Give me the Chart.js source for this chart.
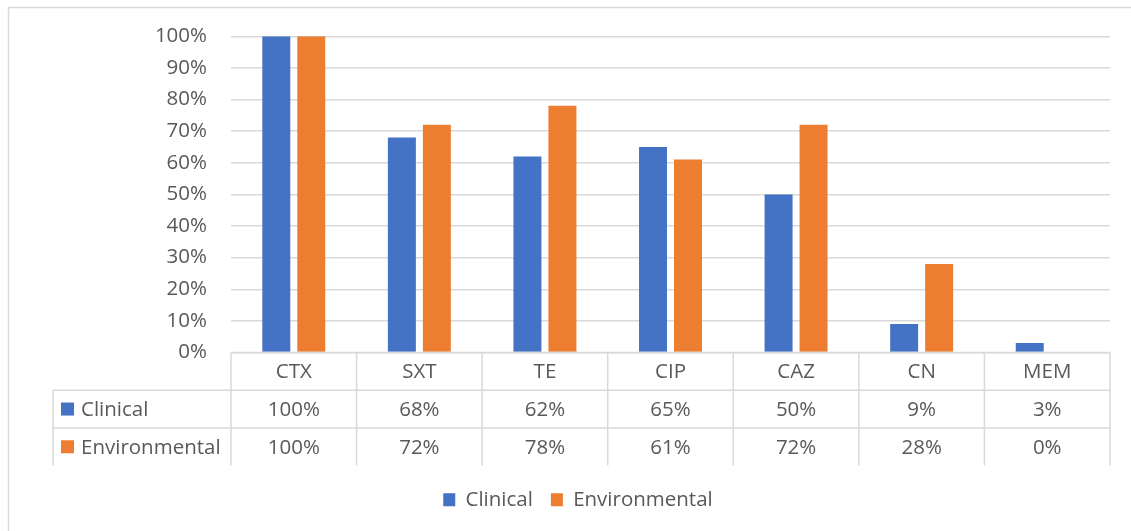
<!DOCTYPE html>
<html>
<head>
<meta charset="utf-8">
<script src="https://cdn.jsdelivr.net/npm/chart.js@4"></script>
<style>
  html, body { margin: 0; padding: 0; background: #ffffff; }
  #wrap { width: 1131px; height: 531px; position: relative; }
</style>
</head>
<body>
<div id="wrap"><canvas id="chart" width="1131" height="531"></canvas></div>
<script>
// Antibiotic resistance rates (%) per drug
const categories = ['CTX', 'SXT', 'TE', 'CIP', 'CAZ', 'CN', 'MEM'];
const clinical = [100, 68, 62, 65, 50, 9, 3];
const environmental = [100, 72, 78, 61, 72, 28, 0];
const seriesNames = ['Clinical', 'Environmental'];
const yTicks = [0, 10, 20, 30, 40, 50, 60, 70, 80, 90, 100];

const BLUE = '#4472C4';
const ORANGE = '#ED7D31';
const TEXT = '#595959';
const LINE = '#d9d9d9';
const FONT = "'Open Sans', 'DejaVu Sans', sans-serif";
const FS = 20.5;

// Frame around the figure plus the data table under the plot
const tablePlugin = {
  id: 'dataTable',
  afterDraw(chart) {
    const ctx = chart.ctx;
    const x = chart.scales.x;
    const area = chart.chartArea;
    const n = categories.length;
    const colW = (area.right - area.left) / n;
    const rowH = 37.7;
    const top = area.bottom;
    const labelLeft = 53;
    const rows = [clinical, environmental];
    const colors = [BLUE, ORANGE];

    ctx.save();
    // outer frame
    ctx.strokeStyle = LINE;
    ctx.lineWidth = 1.5;
    ctx.strokeRect(8.5, 7.5, 1300, 700);

    // grid of the table
    ctx.beginPath();
    // horizontal lines
    ctx.moveTo(area.left, top); ctx.lineTo(area.right, top);
    for (let r = 1; r <= rows.length; r++) {
      const yy = top + r * rowH;
      ctx.moveTo(labelLeft, yy); ctx.lineTo(area.right, yy);
    }
    // vertical lines
    for (let c = 0; c <= n; c++) {
      const xx = area.left + c * colW;
      ctx.moveTo(xx, top); ctx.lineTo(xx, top + rowH * (rows.length + 1));
    }
    ctx.moveTo(labelLeft, top + rowH); ctx.lineTo(labelLeft, top + rowH * (rows.length + 1));
    ctx.stroke();

    ctx.fillStyle = TEXT;
    ctx.font = FS + 'px ' + FONT;
    ctx.textBaseline = 'middle';
    ctx.textAlign = 'center';
    // header row: category names
    categories.forEach((c, i) => {
      ctx.fillText(c, x.getPixelForValue(i), top + rowH / 2 + 1);
    });
    // series rows
    rows.forEach((vals, r) => {
      const cy = top + rowH * (r + 1) + rowH / 2 + 1;
      ctx.textAlign = 'center';
      vals.forEach((v, i) => {
        ctx.fillText(v + '%', x.getPixelForValue(i), cy);
      });
      ctx.fillStyle = colors[r];
      ctx.fillRect(61, cy - 7.5, 13, 13);
      ctx.fillStyle = TEXT;
      ctx.textAlign = 'left';
      ctx.fillText(seriesNames[r], 81, cy);
    });
    ctx.restore();
  }
};

new Chart(document.getElementById('chart'), {
  type: 'bar',
  data: {
    labels: categories,
    datasets: [
      { label: seriesNames[0], data: clinical, backgroundColor: BLUE },
      { label: seriesNames[1], data: environmental, backgroundColor: ORANGE }
    ]
  },
  options: {
    responsive: false,
    animation: false,
    devicePixelRatio: 1,
    layout: { padding: { top: 29, left: 46, right: 21, bottom: 11 } },
    datasets: { bar: { categoryPercentage: 0.557, barPercentage: 0.8 } },
    scales: {
      x: {
        grid: { display: false },
        border: { display: false },
        ticks: { display: false },
        afterFit(scale) { scale.height = 119; }
      },
      y: {
        min: 0,
        max: 100,
        afterBuildTicks(scale) { scale.ticks = yTicks.map(v => ({ value: v })); },
        afterFit(scale) { scale.width = 185; },
        grid: { color: LINE, lineWidth: 1.5, drawTicks: false },
        border: { display: false },
        ticks: {
          padding: 24,
          color: TEXT,
          font: { family: FONT, size: FS },
          callback: v => v + '%'
        }
      }
    },
    plugins: {
      legend: {
        position: 'bottom',
        labels: {
          color: TEXT,
          font: { family: FONT, size: FS },
          boxWidth: 12,
          boxHeight: 13,
          padding: 18
        }
      },
      tooltip: { enabled: false }
    }
  },
  plugins: [tablePlugin]
});
</script>
</body>
</html>
